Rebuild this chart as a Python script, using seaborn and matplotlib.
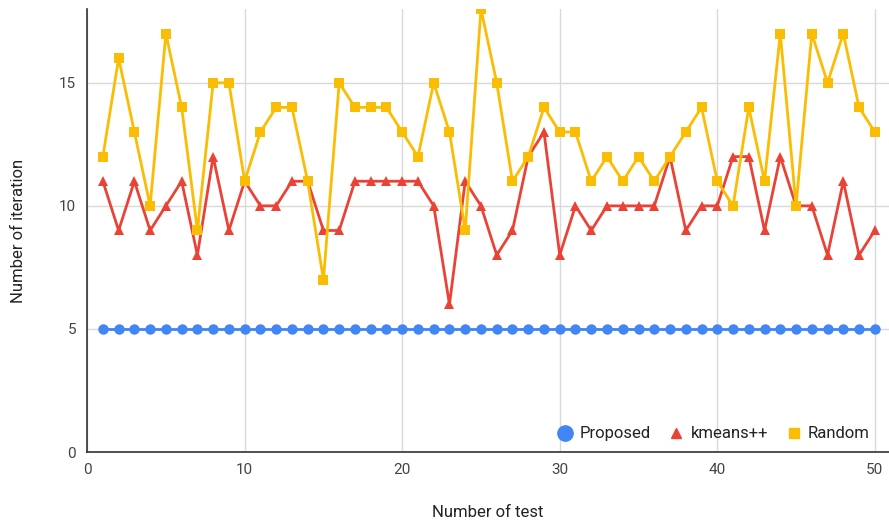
import pandas as pd
import matplotlib.pyplot as plt
import seaborn as sns
from matplotlib.lines import Line2D

# Iterations needed per test run
tests = list(range(1, 51))
proposed = [5] * 50
kmeanspp = [11, 9, 11, 9, 10, 11, 8, 12, 9, 11,
            10, 10, 11, 11, 9, 9, 11, 11, 11, 11,
            11, 10, 6, 11, 10, 8, 9, 12, 13, 8,
            10, 9, 10, 10, 10, 10, 12, 9, 10, 10,
            12, 12, 9, 12, 10, 10, 8, 11, 8, 9]
random_init = [12, 16, 13, 10, 17, 14, 9, 15, 15, 11,
               13, 14, 14, 11, 7, 15, 14, 14, 14, 13,
               12, 15, 13, 9, 18, 15, 11, 12, 14, 13,
               13, 11, 12, 11, 12, 11, 12, 13, 14, 11,
               10, 14, 11, 17, 10, 17, 15, 17, 14, 13]

methods = ["Proposed", "kmeans++", "Random"]
colors = {"Proposed": "#4285F4", "kmeans++": "#EA4335", "Random": "#FBBC04"}
markers = {"Proposed": "o", "kmeans++": "^", "Random": "s"}

df = pd.DataFrame({"test": tests, "Proposed": proposed,
                   "kmeans++": kmeanspp, "Random": random_init})
long_df = df.melt(id_vars="test", var_name="method", value_name="iterations")

sns.set_style("white")
plt.rcParams['font.family'] = ['Roboto', 'DejaVu Sans']

fig = plt.figure(figsize=(8.89, 5.25), dpi=100)
ax = fig.add_axes([0.098, 0.139, 0.902, 0.844])

sns.lineplot(data=long_df, x="test", y="iterations", hue="method", style="method",
             hue_order=methods, style_order=methods, palette=colors,
             markers=markers, dashes=False, linewidth=2, markersize=7.5,
             markeredgewidth=0, legend=False, ax=ax)

ax.set_xlim(0, 50.9)
ax.set_ylim(0, 18)
ax.set_xticks([0, 10, 20, 30, 40, 50])
ax.set_yticks([0, 5, 10, 15])
ax.grid(True, color="#d9d9d9", linewidth=1)
ax.set_axisbelow(True)
for side in ["top", "right"]:
    ax.spines[side].set_visible(False)
ax.spines["left"].set_color("#333333")
ax.spines["bottom"].set_color("#333333")
ax.spines["left"].set_linewidth(1.2)
ax.spines["bottom"].set_linewidth(1.2)
ax.tick_params(axis="both", length=0, labelsize=11, labelcolor="#444444", pad=8)

ax.set_xlabel("Number of test", fontsize=12, color="#222222", labelpad=20)
ax.set_ylabel("Number of iteration", fontsize=12, color="#222222", labelpad=24)

handles = [Line2D([], [], linestyle="none", marker=markers[m], color=colors[m],
                  markersize=11 if m == "Proposed" else 7) for m in methods]
ax.legend(handles, methods, loc="lower right", ncol=3, frameon=False,
          fontsize=12, handletextpad=0.1, handlelength=1.5, columnspacing=0.8,
          bbox_to_anchor=(0.995, -0.01), labelcolor="#222222")

fig.savefig("out.png", dpi=100)
